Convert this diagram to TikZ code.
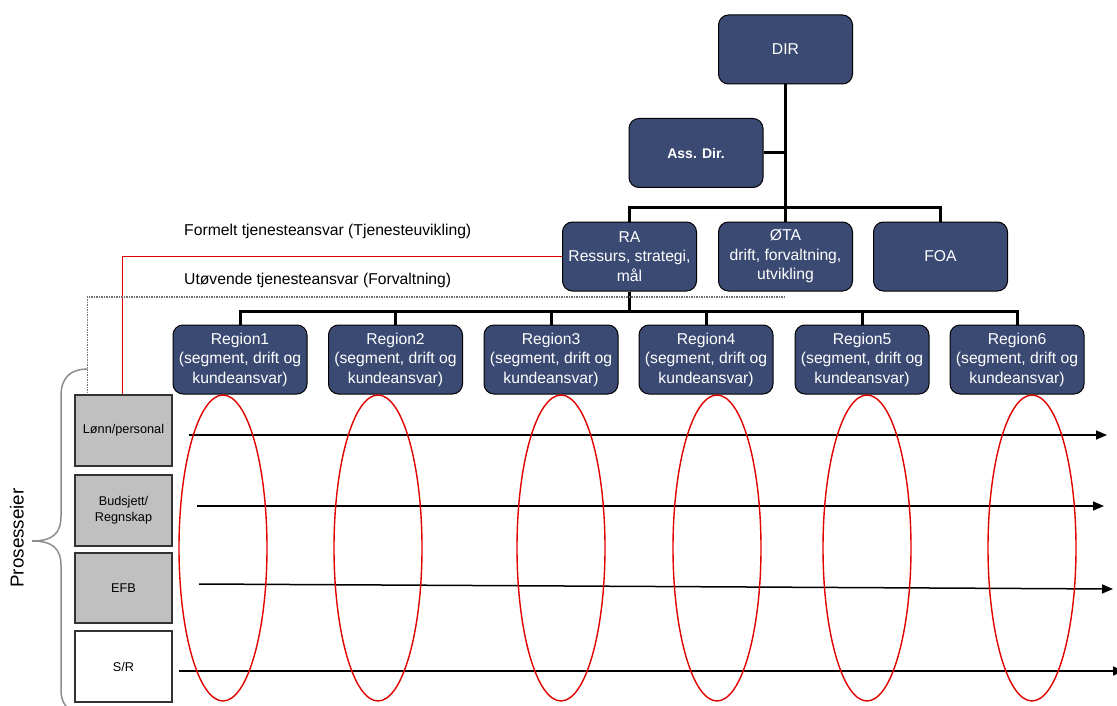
\documentclass[tikz,border=0pt]{standalone}
\usepackage{fontspec}
\setmainfont{Liberation Sans}
\usetikzlibrary{arrows.meta,shapes.geometric}
\definecolor{navy}{HTML}{3B4A73}
\definecolor{procgrey}{HTML}{C0C0C0}
\definecolor{ovalred}{HTML}{E00000}
\definecolor{bracegrey}{HTML}{8C8C8C}
\definecolor{dotgrey}{HTML}{707070}

\begin{document}
\begin{tikzpicture}[x=1pt,y=-1pt,
  orgbox/.style={draw=black, line width=1pt, fill=navy, rounded corners=10pt, text=white,
    minimum width=134pt, minimum height=69pt, align=center, inner sep=1pt,
    font=\fontsize{15.7}{19.5}\selectfont},
  procbox/.style={draw=black!80, line width=1.3pt, fill=procgrey, minimum width=97pt,
    minimum height=71pt, align=center, inner sep=1pt, font=\fontsize{12.7}{16}\selectfont},
  tree/.style={line width=3pt, black},
  flow/.style={line width=1.5pt, black, -{Triangle[length=11pt,width=9pt]}},
  oval/.style={draw=ovalred, line width=1.4pt, ellipse, minimum width=88pt,
    minimum height=306pt, inner sep=0pt},
  label/.style={anchor=west, inner sep=0pt, font=\fontsize{15.7}{19}\selectfont},
]
\useasboundingbox (0,0) rectangle (1117,706);

% management tree
\node[orgbox] (dir) at (785.5,49.5) {DIR};
\node[orgbox, font=\bfseries\fontsize{14}{17}\selectfont] (ass) at (696,153) {Ass. Dir.};
\node[orgbox] (ra)  at (629.5,256.5) {RA\\Ressurs, strategi,\\mål};
\node[orgbox] (ota) at (785.5,256.5) {ØTA\\drift, forvaltning,\\utvikling};
\node[orgbox] (foa) at (940.5,256.5) {FOA};

% regions
\foreach \i/\x in {1/240,2/395.5,3/551,4/706,5/862,6/1017}
  \node[orgbox] (r\i) at (\x,359.5) {Region\i\\(segment, drift og\\kundeansvar)};

\draw[tree] (dir.south) -- (ota.north);
\draw[tree] (ass.east) -- (ass.east -| dir.south);
\draw[tree] (ra.north) -- ++(0,-14) -| (foa.north);
\draw[tree] (ra.south) -- ++(0,21);
\draw[tree] (r1.north) -- ++(0,-13) -| (r6.north);
\foreach \i in {2,3,4,5}
  \draw[tree] (r\i.north) -- ++(0,-13);

% process owners
\node[procbox] (lonn) at (123.5,430.5) {Lønn/personal};
\node[procbox] (bud)  at (123.5,510.5) {Budsjett/\\Regnskap};
\node[procbox, minimum height=70pt] (efb) at (123.5,588) {EFB};
\node[procbox, fill=white] (sr) at (123.5,666.5) {S/R};

% responsibility lines
\node[label] (formelt) at (184,231) {Formelt tjenesteansvar (Tjenesteuvikling)};
\node[label] (utov) at (184,280) {Utøvende tjenesteansvar (Forvaltning)};
\draw[ovalred, line width=1.5pt] (ra.west) -| ([xshift=48pt]lonn.north west);
\coordinate (dotend) at (785,297);
\draw[dotgrey, line width=1.2pt, dash pattern=on 1.2pt off 1.3pt]
  (dotend) -| ([xshift=13pt]lonn.north west);

% process flows
\coordinate (f1s) at (189,435);  \coordinate (f1e) at (1107,435);
\coordinate (f2s) at (197,506);  \coordinate (f2e) at (1104,506);
\coordinate (f3s) at (199,584);  \coordinate (f3e) at (1113,589);
\coordinate (f4s) at (179,671);  \coordinate (f4e) at (1124,671);
\draw[flow] (f1s) -- (f1e);
\draw[flow] (f2s) -- (f2e);
\draw[flow] (f3s) -- (f3e);
\draw[flow] (f4s) -- (f4e);

% region ovals
\foreach \i/\x in {1/223,2/378,3/561,4/717,5/867,6/1032}
  \node[oval] (o\i) at (\x,548) {};

% brace and its label
\draw[bracegrey, line width=1.5pt]
  (88,369) .. controls (70,369) and (61,378) .. (61,396) -- (61,516)
  .. controls (61,534) and (52,541) .. (32,541)
  .. controls (52,541) and (61,548) .. (61,566) -- (61,690)
  .. controls (61,706) and (70,714) .. (88,714);
\node[rotate=90, inner sep=0pt, font=\fontsize{18.8}{22}\selectfont] (pros) at (17,538) {Prosesseier};
\end{tikzpicture}
\end{document}
